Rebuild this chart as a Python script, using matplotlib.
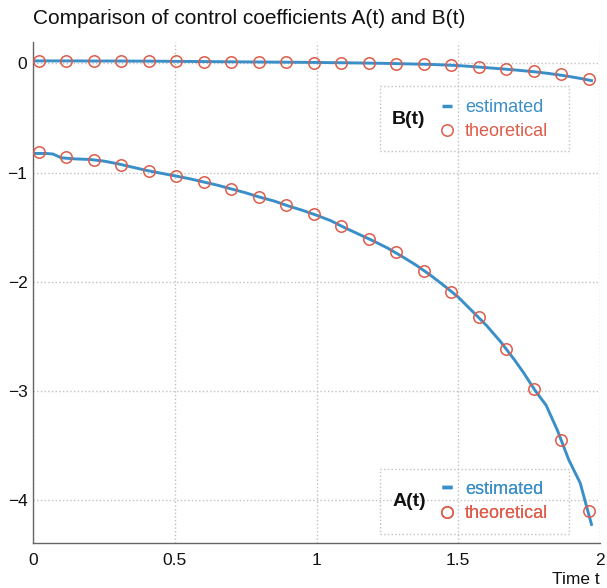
import matplotlib
matplotlib.use("Agg")
import matplotlib.pyplot as plt
from matplotlib.lines import Line2D
from matplotlib.patches import Rectangle

plt.rcParams['font.family'] = ['Liberation Sans', 'DejaVu Sans']

# ---- data ----
t_theo = [0.02, 0.117, 0.214, 0.311, 0.408, 0.505, 0.602, 0.699, 0.796, 0.893,
          0.99, 1.087, 1.184, 1.281, 1.378, 1.475, 1.572, 1.669, 1.766, 1.863, 1.96]
A_theo = [-0.81, -0.856, -0.884, -0.93, -0.985, -1.03, -1.085, -1.15, -1.22, -1.30,
          -1.38, -1.49, -1.61, -1.73, -1.90, -2.09, -2.32, -2.61, -2.98, -3.45, -4.10]
B_theo = [0.022, 0.022, 0.021, 0.021, 0.020, 0.017, 0.015, 0.013, 0.011, 0.009,
          0.007, 0.004, 0.001, -0.003, -0.008, -0.015, -0.030, -0.048, -0.069, -0.097, -0.145]

t_est = [0.007, 0.045, 0.07, 0.10, 0.15, 0.20, 0.25, 0.30, 0.35, 0.40, 0.45, 0.50,
         0.55, 0.60, 0.65, 0.70, 0.75, 0.80, 0.85, 0.90, 0.95, 1.00, 1.05, 1.10,
         1.15, 1.20, 1.25, 1.30, 1.35, 1.40, 1.45, 1.50, 1.55, 1.60, 1.65, 1.70,
         1.73, 1.77, 1.81, 1.85, 1.89, 1.93, 1.97]
A_est = [-0.825, -0.825, -0.83, -0.865, -0.875, -0.88, -0.895, -0.92, -0.95, -0.98,
         -1.005, -1.03, -1.055, -1.085, -1.115, -1.15, -1.185, -1.225, -1.26, -1.305,
         -1.345, -1.39, -1.44, -1.505, -1.565, -1.625, -1.69, -1.765, -1.845, -1.935,
         -2.035, -2.14, -2.27, -2.40, -2.55, -2.72, -2.83, -2.99, -3.13, -3.36,
         -3.63, -3.84, -4.22]
B_est = [0.022, 0.022, 0.022, 0.022, 0.022, 0.021, 0.021, 0.021, 0.020, 0.020,
         0.019, 0.018, 0.017, 0.016, 0.015, 0.014, 0.013, 0.012, 0.011, 0.010,
         0.009, 0.008, 0.006, 0.005, 0.003, 0.001, -0.001, -0.004, -0.007, -0.010,
         -0.015, -0.021, -0.030, -0.040, -0.050, -0.061, -0.068, -0.078, -0.090,
         -0.104, -0.120, -0.138, -0.158]

x_ticks = [0, 0.5, 1, 1.5, 2]
x_ticklabels = ['0', '0.5', '1', '1.5', '2']
y_ticks = [0, -1, -2, -3, -4]

BLUE = '#3a8fc8'
RED = '#de5b49'

fig = plt.figure(figsize=(6.07, 5.88), dpi=100)
ax = fig.add_axes([33/607, 45/588, 567/607, 501/588])

ax.plot(t_est, A_est, color=BLUE, lw=2.1, zorder=3)
ax.plot(t_est, B_est, color=BLUE, lw=2.1, zorder=3)
ax.plot(t_theo, A_theo, 'o', ms=8.2, mfc='none', mec=RED, mew=1.1, zorder=4)
ax.plot(t_theo, B_theo, 'o', ms=8.2, mfc='none', mec=RED, mew=1.1, zorder=4)

ax.set_xlim(0, 2)
ax.set_ylim(-4.39, 0.195)
ax.set_xticks(x_ticks)
ax.set_xticklabels(x_ticklabels)
ax.set_yticks(y_ticks)
ax.tick_params(length=0, labelsize=12.5, colors='#111111')
ax.tick_params(axis='x', pad=7)
ax.tick_params(axis='y', pad=4)
ax.grid(True, linestyle=':', color='#c0c0c0', lw=1.0)
ax.set_axisbelow(True)
for s in ['top', 'right']:
    ax.spines[s].set_visible(False)
for s in ['left', 'bottom']:
    ax.spines[s].set_color('#666666')
    ax.spines[s].set_linewidth(1.0)

ax.set_title('Comparison of control coefficients A(t) and B(t)', loc='left',
             fontsize=15, pad=13, color='#111111')
ax.set_xlabel('Time t', loc='right', fontsize=12.5, labelpad=3, color='#111111')

h_est = Line2D([], [], color=BLUE, marker='_', linestyle='None', ms=7, mew=2.5)
h_theo = Line2D([], [], color=RED, marker='o', linestyle='None', ms=8.2,
                mfc='none', mec=RED, mew=1.1)

def make_legend(ycenter, box_bottom, box_top, name):
    leg = ax.legend([h_est, h_theo], ['estimated', 'theoretical'],
                    loc='center left', bbox_to_anchor=(0.714, ycenter),
                    frameon=False, fontsize=13, handlelength=1.0,
                    handletextpad=0.5, borderpad=0, borderaxespad=0,
                    labelspacing=0.42)
    for txt, c in zip(leg.get_texts(), [BLUE, RED]):
        txt.set_color(c)
    ax.add_artist(leg)
    ax.add_patch(Rectangle((0.612, box_bottom), 0.333, box_top - box_bottom,
                           transform=ax.transAxes, fill=False, ls=':',
                           ec='#c0c0c0', lw=1.0, zorder=5, clip_on=False))
    ax.text(0.663, ycenter, name, transform=ax.transAxes, fontsize=14,
            fontweight='bold', ha='center', va='center', color='#111111')

make_legend(0.845, 0.782, 0.912, 'B(t)')
make_legend(0.083, 0.018, 0.148, 'A(t)')

fig.savefig('out.png', dpi=100)
